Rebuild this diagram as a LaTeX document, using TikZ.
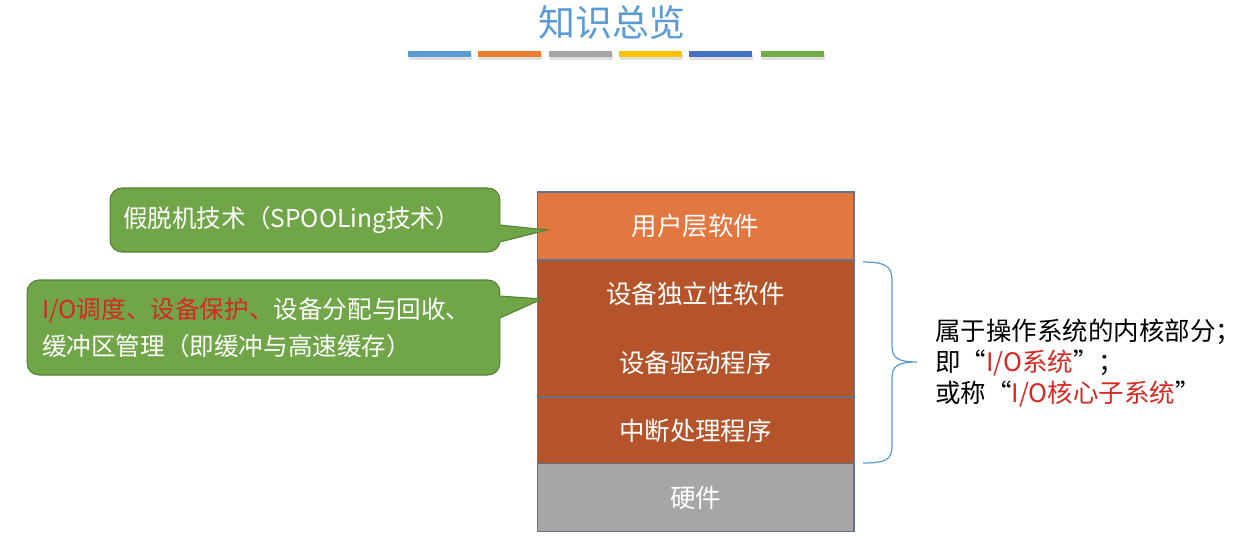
\documentclass[tikz,border=0pt]{standalone}
\usepackage{fontspec}
\setmainfont{Noto Sans CJK SC}
\usepackage{tikz}
\usetikzlibrary{positioning}
\usetikzlibrary{calc}
\definecolor{titleblue}{RGB}{91,155,213}
\definecolor{bara}{RGB}{91,155,213}
\definecolor{barb}{RGB}{237,125,49}
\definecolor{barc}{RGB}{165,165,165}
\definecolor{bard}{RGB}{255,192,0}
\definecolor{bare}{RGB}{68,114,196}
\definecolor{barf}{RGB}{112,173,71}
\definecolor{userorange}{RGB}{226,119,64}
\definecolor{kernelbrown}{RGB}{181,83,42}
\definecolor{hwgray}{RGB}{166,166,166}
\definecolor{layerline}{RGB}{100,115,140}
\definecolor{bubblegreen}{RGB}{112,165,72}
\definecolor{bubbleline}{RGB}{84,128,52}
\definecolor{hlred}{RGB}{215,40,35}
\tikzstyle{layer}=[draw=layerline,line width=0.6pt,outer sep=0pt,inner sep=0pt,minimum width=6.34cm,text=white,align=center,font=\fontsize{14.5pt}{17pt}\selectfont]
\tikzstyle{bubble}=[draw=bubbleline,fill=bubblegreen,line width=0.6pt,rounded corners=0.24cm,text=white,align=left,font=\fontsize{14pt}{21pt}\selectfont]
\tikzstyle{tip}=[draw=bubbleline,line width=0.6pt,line join=miter]
\tikzstyle{bar}=[line width=0.12cm]
\tikzstyle{brace}=[draw=titleblue,line width=0.7pt]

\begin{document}
\begin{tikzpicture}[x=0.02cm,y=-0.02cm]
    \useasboundingbox (0,0) rectangle (1246,559);

    % title and coloured bars
    \node[text=titleblue,font=\fontsize{21pt}{25pt}\selectfont] (title) at (612,22) {知识总览};
    \foreach \x/\c in {408/bara, 478/barb, 549/barc, 619/bard, 689/bare, 761/barf}
    {
        \draw[bar, black!12] (\x+1,57) -- ++(63,0);
        \draw[bar, \c] (\x,54) -- ++(63,0);
    }

    % the layers
    \node[layer,fill=userorange,minimum height=1.36cm] (user) at (695.5,226) {用户层软件};
    \node[layer,fill=kernelbrown,minimum height=2.74cm,below=0pt of user] (indep) {设备独立性软件\\[0.78cm]设备驱动程序};
    \node[layer,fill=kernelbrown,minimum height=1.34cm,below=0pt of indep] (intr) {中断处理程序};
    \node[layer,fill=hwgray,minimum height=1.36cm,below=0pt of intr] (hw) {硬件};

    % callouts
    \node[bubble,text width=7.28cm,inner xsep=0.26cm,minimum height=1.28cm] (spool) at (305,220) {假脱机技术（SPOOLing技术）};
    \coordinate (spoolA) at (500,225);
    \coordinate (spoolB) at (500,242);
    \coordinate (spoolT) at (547,230);
    \fill[bubblegreen] (497,225) -- (spoolA) -- (spoolT) -- (spoolB) -- (497,242) -- cycle;
    \draw[tip] (spoolA) -- (spoolT) -- (spoolB);

    \node[bubble,text width=8.86cm,inner xsep=0.3cm,minimum height=1.9cm] (ioctl) at (263.5,327.5) {\textcolor{hlred}{I/O调度、设备保护、}设备分配与回收、\\缓冲区管理（即缓冲与高速缓存）};
    \coordinate (ioctlA) at (500,296);
    \coordinate (ioctlB) at (500,318);
    \coordinate (ioctlT) at (542,299);
    \fill[bubblegreen] (497,296) -- (ioctlA) -- (ioctlT) -- (ioctlB) -- (497,318) -- cycle;
    \draw[tip] (ioctlA) -- (ioctlT) -- (ioctlB);

    % brace and note
    \coordinate (btop) at (863,262);
    \coordinate (bbot) at (863,463);
    \coordinate (btip) at (917,362);
    \draw[brace] (btop) .. controls (885,262) and (892,266) .. (892,280) -- (892,346)
        .. controls (892,358) and (898,362) .. (btip)
        .. controls (898,362) and (892,366) .. (892,378) -- (892,446)
        .. controls (892,460) and (885,463) .. (bbot);
    \node[anchor=west,align=left,inner sep=0pt,font=\fontsize{14.5pt}{17.6pt}\selectfont] (note) at (935,363)
        {属于操作系统的内核部分；\\即“\textcolor{hlred}{I/O系统}”；\\或称“\textcolor{hlred}{I/O核心子系统}”};
\end{tikzpicture}
\end{document}
